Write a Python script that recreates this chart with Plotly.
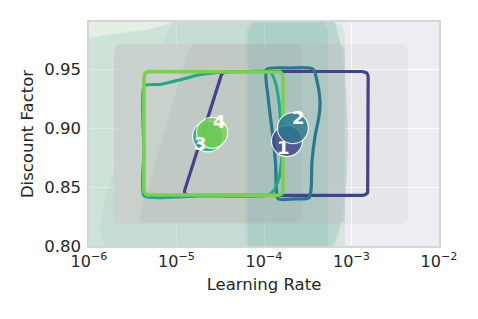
import numpy as np
import plotly.graph_objects as go

# ---------------- data ----------------
run_ids = ["1", "2", "3", "4"]
run_colors = ["#414487", "#2A788E", "#22A884", "#7AD151"]
best_lr = [1.83e-4, 2.14e-4, 2.29e-5, 2.55e-5]
best_gamma = [0.889, 0.900, 0.893, 0.896]
label_dx = [-3, 6, -7, 7]
label_dy = [-6, 11, -7, 11]

# contour outlines (learning rate, discount factor)
c1_lr = [1.19e-5, 3.31e-5, 1.55e-3, 1.55e-3]
c1_gamma = [0.843, 0.948, 0.948, 0.843]

c2_lr = [1.08e-4, 1.98e-4, 3.63e-4, 4.03e-4, 4.37e-4, 4.25e-4, 3.83e-4, 3.54e-4,
         3.44e-4, 3.27e-4, 2.26e-4, 1.45e-4, 1.39e-4, 1.36e-4, 1.30e-4, 1.20e-4,
         1.11e-4, 1.05e-4, 1.08e-4]
c2_gamma = [0.950, 0.951, 0.950, 0.940, 0.923, 0.910, 0.893, 0.872, 0.847, 0.841,
            0.840, 0.840, 0.847, 0.868, 0.885, 0.906, 0.927, 0.944, 0.950]

c3_lr = [4.25e-6, 6.48e-6, 1.10e-5, 1.76e-5, 2.75e-5, 6.92e-5, 1.17e-4, 1.34e-4,
         1.48e-4, 1.56e-4, 1.61e-4, 1.48e-4, 1.30e-4, 1.11e-4, 1.86e-5, 4.25e-6,
         4.25e-6, 4.25e-6]
c3_gamma = [0.936, 0.937, 0.941, 0.945, 0.947, 0.948, 0.948, 0.9395, 0.9227, 0.9017,
            0.8765, 0.8571, 0.8471, 0.8429, 0.8425, 0.8425, 0.880, 0.936]

c4_lr = [4.25e-6, 1.65e-4, 1.65e-4, 4.25e-6]
c4_gamma = [0.948, 0.948, 0.843, 0.843]

# density regions (filled)
g0_lr = [5e-7, 8.4e-4, 8.4e-4, 5e-7]
g0_gamma = [0.990, 0.990, 0.780, 0.780]
g1_lr = [9e-7, 1.0e-6, 1.98e-6, 4.98e-6, 9.6e-6, 1.8e-5, 5.38e-4, 5.38e-4, 9e-7]
g1_gamma = [0.9765, 0.9765, 0.980, 0.984, 0.991, 1.000, 1.000, 0.790, 0.790]
t3_lr = [1.25e-5, 5.67e-6, 1.52e-6, 1.34e-6, 1.74e-6, 5.38e-4, 5.38e-4]
t3_gamma = [1.000, 0.958, 0.8387, 0.8118, 0.7966, 0.7966, 1.000]
box_a_lr = [1.93e-6, 4.43e-3, 4.43e-3, 1.93e-6]
box_a_gamma = [0.9714, 0.9714, 0.8185, 0.8185]
box_b_lr = [1.93e-6, 8.4e-4, 8.4e-4, 1.93e-6]
box_b_gamma = [0.9714, 0.9714, 0.8185, 0.8185]
box_c_lr = [3.63e-6, 1.43e-5, 2.72e-4, 2.72e-4]
box_c_gamma = [0.8202, 0.9714, 0.9714, 0.8202]
t2_outer_lr = [6.07e-5, 8.4e-4, 8.4e-4, 6.07e-5]
t2_outer_gamma = [0.990, 0.990, 0.780, 0.780]
t2_inner_lr = [6.57e-5, 5.38e-4, 5.38e-4, 6.57e-5]
t2_inner_gamma = [0.992, 0.992, 0.780, 0.780]

# ---------------- helpers ----------------
XR = (-6.0, -2.0)
YR = (0.80, 0.99)
PW, PH = 350.0, 226.0


def rounded(xs, ys, r, n=8):
    u = (np.log10(np.array(xs, float)) - XR[0]) / (XR[1] - XR[0]) * PW
    v = (np.array(ys, float) - YR[0]) / (YR[1] - YR[0]) * PH
    m = len(u)
    pu, pv = [], []
    for i in range(m):
        p = np.array([u[i - 1], v[i - 1]])
        c = np.array([u[i], v[i]])
        nx = np.array([u[(i + 1) % m], v[(i + 1) % m]])
        d1 = p - c
        d2 = nx - c
        l1 = np.linalg.norm(d1)
        l2 = np.linalg.norm(d2)
        rr = min(r, l1 / 2, l2 / 2)
        a = c + d1 / l1 * rr
        b = c + d2 / l2 * rr
        for t in np.linspace(0, 1, n):
            q = (1 - t) ** 2 * a + 2 * (1 - t) * t * c + t ** 2 * b
            pu.append(q[0])
            pv.append(q[1])
    pu.append(pu[0])
    pv.append(pv[0])
    pu = np.array(pu)
    pv = np.array(pv)
    xo = 10 ** (pu / PW * (XR[1] - XR[0]) + XR[0])
    yo = pv / PH * (YR[1] - YR[0]) + YR[0]
    return xo, yo


fig = go.Figure()


def fill(xs, ys, color, r=14):
    x, y = rounded(xs, ys, r)
    fig.add_trace(go.Scatter(x=x, y=y, mode="lines", fill="toself", fillcolor=color,
                             line=dict(width=0), hoverinfo="skip"))


def fill_spline(xs, ys, color):
    fig.add_trace(go.Scatter(x=list(xs) + [xs[0]], y=list(ys) + [ys[0]], mode="lines",
                             fill="toself", fillcolor=color,
                             line=dict(width=0, shape="spline", smoothing=0.7),
                             hoverinfo="skip"))


fill(g0_lr, g0_gamma, "rgba(215,245,190,0.25)", 14)
fill_spline(g1_lr, g1_gamma, "rgba(102,182,162,0.19)")
fill_spline(t3_lr, t3_gamma, "rgba(120,170,178,0.10)")
fill(box_a_lr, box_a_gamma, "rgba(100,100,110,0.06)", 8)
fill(box_b_lr, box_b_gamma, "rgba(204,206,204,0.70)", 8)
fill(box_c_lr, box_c_gamma, "rgba(100,105,105,0.07)", 8)
fill(t2_outer_lr, t2_outer_gamma, "rgba(95,167,163,0.10)", 14)
fill(t2_inner_lr, t2_inner_gamma, "rgba(95,167,163,0.14)", 15)

# contour outlines
x, y = rounded(c1_lr, c1_gamma, 6)
fig.add_trace(go.Scatter(x=x, y=y, mode="lines", line=dict(color=run_colors[0], width=3.2),
                         hoverinfo="skip"))
fig.add_trace(go.Scatter(x=c2_lr, y=c2_gamma, mode="lines",
                         line=dict(color=run_colors[1], width=3.2, shape="spline", smoothing=0.8),
                         hoverinfo="skip"))
fig.add_trace(go.Scatter(x=c3_lr, y=c3_gamma, mode="lines",
                         line=dict(color=run_colors[2], width=3.0, shape="spline", smoothing=0.5),
                         hoverinfo="skip"))
x, y = rounded(c4_lr, c4_gamma, 6)
fig.add_trace(go.Scatter(x=x, y=y, mode="lines", line=dict(color=run_colors[3], width=3.6),
                         hoverinfo="skip"))

# best points
for i in range(4):
    fig.add_trace(go.Scatter(x=[best_lr[i]], y=[best_gamma[i]], mode="markers",
                             marker=dict(size=31, color=run_colors[i], opacity=0.82,
                                         line=dict(color="white", width=1.2)),
                             hoverinfo="skip"))
    fig.add_annotation(x=np.log10(best_lr[i]), y=best_gamma[i], text="<b>%s</b>" % run_ids[i],
                       showarrow=False, xshift=label_dx[i], yshift=label_dy[i],
                       font=dict(family="DejaVu Sans", size=18, color="white"))

x_tick_vals = [1e-6, 1e-5, 1e-4, 1e-3, 1e-2]
x_tick_text = ["10<sup>−6</sup>", "10<sup>−5</sup>", "10<sup>−4</sup>", "10<sup>−3</sup>", "10<sup>−2</sup>"]
y_tick_vals = [0.80, 0.85, 0.90, 0.95]
y_tick_text = ["0.80", "0.85", "0.90", "0.95"]

# the page body adds an 8px offset, so margins are compensated
fig.update_layout(
    width=478, height=319,
    margin=dict(l=81, r=47, t=12, b=81),
    paper_bgcolor="white", plot_bgcolor="#EDEDF3",
    showlegend=False,
    font=dict(family="DejaVu Sans", color="#262626"),
)
fig.update_xaxes(type="log", range=[XR[0], XR[1]], tickvals=x_tick_vals, ticktext=x_tick_text,
                 showgrid=True, gridcolor="white", gridwidth=1, zeroline=False,
                 showline=True, linecolor="#d6d6d6", linewidth=1.5, mirror=True,
                 ticks="", tickfont=dict(size=16),
                 title=dict(text="Learning Rate", font=dict(size=16.5), standoff=8))
fig.update_yaxes(range=[YR[0], YR[1]], tickvals=y_tick_vals, ticktext=y_tick_text,
                 showgrid=True, gridcolor="white", gridwidth=1, zeroline=False,
                 showline=True, linecolor="#d6d6d6", linewidth=1.5, mirror=True,
                 ticks="", tickfont=dict(size=16.5), ticklabelstandoff=3,
                 title=dict(text="Discount Factor", font=dict(size=16.5), standoff=6))

fig.write_html("out.html")
